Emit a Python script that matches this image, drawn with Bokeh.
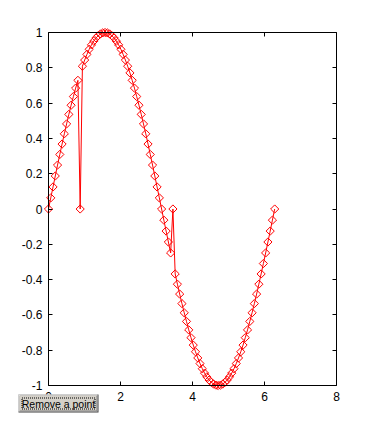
import math
from bokeh.plotting import figure
from bokeh.models import (Range1d, FixedTicker, CustomJSTickFormatter, LinearAxis,
                          BoxAnnotation, Label)
from bokeh.embed import file_html
from bokeh.resources import INLINE

# ---- data ----
x_vals = [0.000, 0.063, 0.126, 0.188, 0.251, 0.314, 0.377, 0.440, 0.503, 0.565,
          0.628, 0.691, 0.754, 0.817, 0.880, 0.942, 1.005, 1.068, 1.131, 1.194,
          1.257, 1.319, 1.382, 1.445, 1.508, 1.571, 1.634, 1.696, 1.759, 1.822,
          1.885, 1.948, 2.011, 2.073, 2.136, 2.199, 2.262, 2.325, 2.388, 2.450,
          2.513, 2.576, 2.639, 2.702, 2.765, 2.827, 2.890, 2.953, 3.016, 3.079,
          3.142, 3.204, 3.267, 3.330, 3.393, 3.456, 3.519, 3.581, 3.644, 3.707,
          3.770, 3.833, 3.896, 3.958, 4.021, 4.084, 4.147, 4.210, 4.273, 4.335,
          4.398, 4.461, 4.524, 4.587, 4.650, 4.712, 4.775, 4.838, 4.901, 4.964,
          5.027, 5.089, 5.152, 5.215, 5.278, 5.341, 5.404, 5.466, 5.529, 5.592,
          5.655, 5.718, 5.781, 5.843, 5.906, 5.969, 6.032, 6.095, 6.158, 6.220,
          6.283]
y_vals = [0.000, 0.063, 0.125, 0.187, 0.249, 0.309, 0.368, 0.426, 0.482, 0.536,
          0.588, 0.637, 0.685, 0.729, 0.000, 0.809, 0.844, 0.876, 0.905, 0.930,
          0.951, 0.969, 0.982, 0.992, 0.998, 1.000, 0.998, 0.992, 0.982, 0.969,
          0.951, 0.930, 0.905, 0.876, 0.844, 0.809, 0.771, 0.729, 0.685, 0.637,
          0.588, 0.536, 0.482, 0.426, 0.368, 0.309, 0.249, 0.187, 0.125, 0.063,
          0.000, -0.063, -0.125, -0.187, -0.249, 0.000, -0.368, -0.426, -0.482, -0.536,
          -0.588, -0.637, -0.685, -0.729, -0.771, -0.809, -0.844, -0.876, -0.905, -0.930,
          -0.951, -0.969, -0.982, -0.992, -0.998, -1.000, -0.998, -0.992, -0.982, -0.969,
          -0.951, -0.930, -0.905, -0.876, -0.844, -0.809, -0.771, -0.729, -0.685, -0.637,
          -0.588, -0.536, -0.482, -0.426, -0.368, -0.309, -0.249, -0.187, -0.125, -0.063,
          0.000]
x_ticks = [0, 2, 4, 6, 8]
y_ticks = [-1, -0.8, -0.6, -0.4, -0.2, 0, 0.2, 0.4, 0.6, 0.8, 1]
x_lim = (0, 8)
y_lim = (-1, 1)
button_text = "Remove a point"

FONT = "Liberation Sans"
W, H = 371, 433
# axes box in page pixels
BOX_L, BOX_R, BOX_T, BOX_B = 48, 336, 32, 385
sx = (BOX_R - BOX_L) / (x_lim[1] - x_lim[0])
sy = (BOX_B - BOX_T) / (y_lim[1] - y_lim[0])

# the frame fills the whole page, so the button (outside the axes box) is not clipped
p = figure(width=W, height=H,
           x_range=Range1d(x_lim[0] - BOX_L / sx, x_lim[1] + (W - BOX_R) / sx),
           y_range=Range1d(y_lim[0] - (H - BOX_B) / sy, y_lim[1] + BOX_T / sy),
           output_backend="svg", toolbar_location=None,
           x_axis_location=None, y_axis_location=None,
           min_border_left=0, min_border_right=0, min_border_top=0, min_border_bottom=0)
p.xgrid.visible = False
p.ygrid.visible = False
p.background_fill_color = "white"
p.border_fill_color = "white"
p.outline_line_color = None

fmt = CustomJSTickFormatter(code="return String(Math.round(tick*10)/10);")
blank = CustomJSTickFormatter(code="return '';")

def make_axis(ticks, loc, bounds, labels=True):
    ax = LinearAxis(fixed_location=loc, bounds=bounds)
    ax.ticker = FixedTicker(ticks=ticks)
    ax.axis_line_color = "black"
    ax.axis_line_width = 1
    ax.major_tick_line_color = "black"
    ax.major_tick_in = 4
    ax.major_tick_out = 0
    ax.minor_tick_line_color = None
    ax.major_label_text_font = FONT
    ax.major_label_text_font_size = "12px"
    ax.major_label_text_color = "black"
    ax.major_label_standoff = 6
    ax.formatter = fmt if labels else blank
    return ax

p.add_layout(make_axis(x_ticks, y_lim[0], x_lim), "below")
p.add_layout(make_axis(x_ticks, y_lim[1], x_lim, labels=False), "above")
p.add_layout(make_axis(y_ticks, x_lim[0], y_lim), "left")
p.add_layout(make_axis(y_ticks, x_lim[1], y_lim, labels=False), "right")

p.line(x_vals, y_vals, line_color="#ff0000", line_width=1)
p.scatter(x_vals, y_vals, marker="square", angle=math.pi / 4, size=5.8,
          fill_color=None, line_color="#ff0000", line_width=1)

# ---- the button (canvas pixel units, y downward) ----
L, R, T, B = 18, 98, 394, 412

def box(l, r, t, b, fill=None, line=None, dash="solid"):
    p.add_layout(BoxAnnotation(left=l, right=r, top=t, bottom=b,
                               left_units="canvas", right_units="canvas",
                               top_units="canvas", bottom_units="canvas",
                               fill_color=fill, fill_alpha=1.0 if fill else 0.0,
                               line_color=line, line_alpha=1.0, line_width=1,
                               line_dash=dash, level="overlay"))

box(L, R, T, B, fill="#404040")
box(L, R - 1, T, B - 1, fill="#ffffff")
box(L + 1, R - 1, T + 1, B - 1, fill="#808080")
box(L + 1, R - 2, T + 1, B - 2, fill="#d4d0c8")
box(L + 3.5, R - 3.5, T + 3.5, B - 3.5, line="#000000", dash="1 1")
p.add_layout(Label(x=(L + R) / 2, y=(T + B) / 2, x_units="canvas", y_units="canvas",
                   text=button_text, text_align="center", text_baseline="middle",
                   text_font=FONT, text_font_size="10.5px", text_color="black",
                   level="overlay"))

open("out.html", "w").write(file_html(p, INLINE))
